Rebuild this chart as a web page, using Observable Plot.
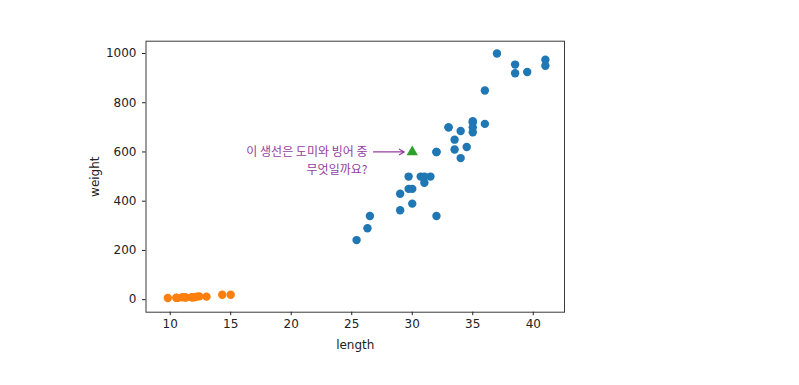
<!DOCTYPE html>
<html>
<head>
<meta charset="utf-8">
<script src="https://cdn.jsdelivr.net/npm/d3@7"></script>
<script src="https://cdn.jsdelivr.net/npm/@observablehq/plot@0.6"></script>
<style>
  html, body { margin: 0; padding: 0; background: #fff; }
  svg { display: block; }
</style>
</head>
<body>
<div id="chart"></div>
<script>
const breamLength = [25.4, 26.3, 26.5, 29.0, 29.0, 29.7, 29.7, 30.0, 30.0, 30.7, 31.0, 31.0, 31.5, 32.0, 32.0, 32.0, 33.0, 33.0, 33.5, 33.5, 34.0, 34.0, 34.5, 35.0, 35.0, 35.0, 35.0, 36.0, 36.0, 37.0, 38.5, 38.5, 39.5, 41.0, 41.0];
const breamWeight = [242, 290, 340, 363, 430, 450, 500, 390, 450, 500, 475, 500, 500, 340, 600, 600, 700, 700, 610, 650, 575, 685, 620, 680, 700, 725, 720, 714, 850, 1000, 920, 955, 925, 975, 950];
const smeltLength = [9.8, 10.5, 10.6, 11.0, 11.2, 11.3, 11.8, 11.8, 12.0, 12.2, 12.4, 13.0, 14.3, 15.0];
const smeltWeight = [6.7, 7.5, 7.0, 9.7, 9.8, 8.7, 10.0, 9.9, 9.8, 12.2, 13.4, 12.2, 19.7, 19.9];
const newFish = [{length: 30, weight: 600}];
const annotationLines = ["이 생선은 도미와 빙어 중", "무엇일까요?"];
const annotationAt = {length: 26.3, weight: 600};
const xTicks = [10, 15, 20, 25, 30, 35, 40];
const yTicks = [0, 200, 400, 600, 800, 1000];

const bream = breamLength.map((l, i) => ({length: l, weight: breamWeight[i]}));
const smelt = smeltLength.map((l, i) => ({length: l, weight: smeltWeight[i]}));
const purple = "#9440a0";
const textOpts = {x: "length", y: "weight", textAnchor: "end", lineAnchor: "middle", fill: purple, fontSize: 12, fontFamily: "Noto Sans CJK KR"};

const chart = Plot.plot({
  width: 799,
  height: 385,
  marginLeft: 145.5,
  marginRight: 235,
  marginTop: 40.7,
  marginBottom: 73.3,
  style: {fontFamily: "DejaVu Sans", fontSize: "12px", color: "#222", background: "#fff"},
  x: {domain: [8.0, 42.58]},
  y: {domain: [-51, 1050]},
  marks: [
    Plot.frame({stroke: "#3a3a3a"}),
    Plot.axisX({ticks: xTicks, tickSize: 3.5, tickPadding: 4, tickFormat: d => String(d), label: "length", labelAnchor: "center", labelArrow: "none", labelOffset: 37, fontSize: 12}),
    Plot.axisY({ticks: yTicks, tickSize: 3.5, tickPadding: 6, tickFormat: d => String(d), label: "weight", labelAnchor: "center", labelArrow: "none", labelOffset: 56, fontSize: 12}),
    Plot.dot(bream, {x: "length", y: "weight", r: 4.2, fill: "#1f77b4", stroke: null}),
    Plot.dot(smelt, {x: "length", y: "weight", r: 4.2, fill: "#ff7f0e", stroke: null}),
    Plot.dot(newFish, {x: "length", y: "weight", symbol: "triangle", r: 4.2, fill: "#2ca02c", stroke: null}),
    Plot.text([annotationAt], {...textOpts, text: () => annotationLines[0], dy: 0}),
    Plot.text([annotationAt], {...textOpts, text: () => annotationLines[1], dy: 17.8}),
    Plot.arrow([annotationAt], {x1: "length", y1: "weight", x2: () => newFish[0].length, y2: () => newFish[0].weight, stroke: purple, strokeWidth: 1.2, headLength: 7, bend: false, insetStart: 6, insetEnd: 8})
  ]
});
document.getElementById("chart").appendChild(chart);
</script>
</body>
</html>
